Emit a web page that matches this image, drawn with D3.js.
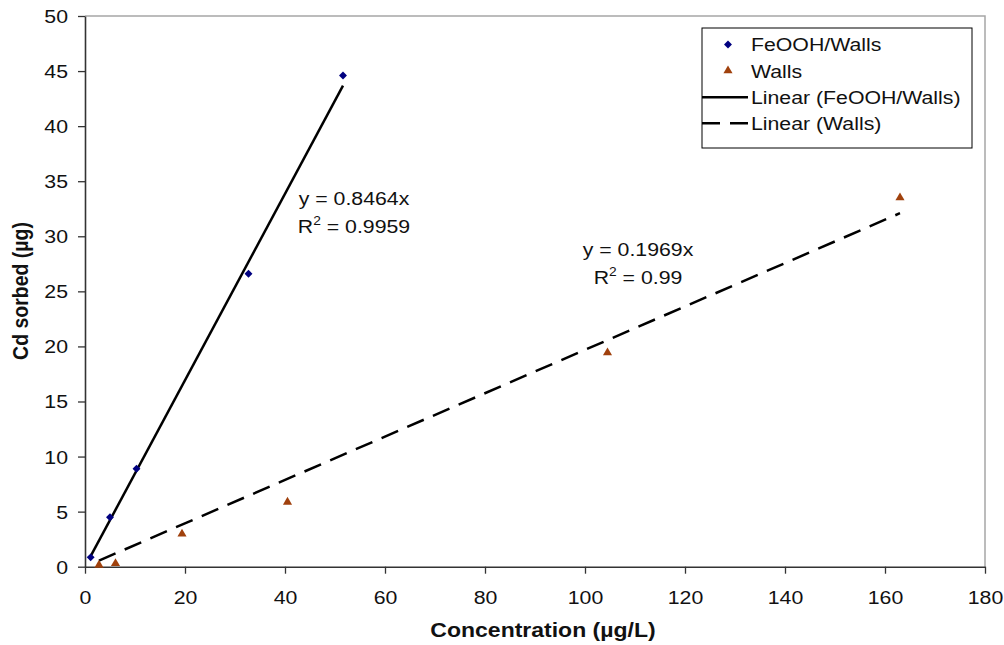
<!DOCTYPE html>
<html>
<head>
<meta charset="utf-8">
<script src="https://cdn.jsdelivr.net/npm/d3@7/dist/d3.min.js"></script>
<style>
  html, body { margin: 0; padding: 0; background: #fff; }
  svg { display: block; font-family: "Liberation Sans", Arial, sans-serif; }
</style>
</head>
<body>
<svg id="chart" width="1004" height="645"></svg>
<script>
// Cd sorption data: concentration (µg/L) vs Cd sorbed (µg)
const feoohConc   = [1.13, 5.0, 10.3, 32.7, 51.6];
const feoohSorbed = [0.85, 4.49, 8.9, 26.6, 44.6];
const wallsConc   = [2.8, 6.1, 19.4, 40.5, 104.5, 163.0];
const wallsSorbed = [0.15, 0.3, 2.97, 5.87, 19.43, 33.5];

// Linear fits through the origin
const feoohSlope = 0.8464, feoohR2 = "0.9959";
const wallsSlope = 0.1969, wallsR2 = "0.99";

const xTicks = [0, 20, 40, 60, 80, 100, 120, 140, 160, 180];
const yTicks = [0, 5, 10, 15, 20, 25, 30, 35, 40, 45, 50];

const seriesNames = ["FeOOH/Walls", "Walls", "Linear (FeOOH/Walls)", "Linear (Walls)"];

const FEOOH_COLOR = "#000080";
const WALLS_COLOR = "#a0410d";
const STRETCH = 1.15;          // horizontal text stretch
const FONT = 18.5;
const DASH = "18,10";

const svg = d3.select("#chart");
const plotL = 85, plotR = 985, plotT = 16, plotB = 566.7;

const x = d3.scaleLinear().domain([0, 180]).range([plotL, plotR]);
const y = d3.scaleLinear().domain([0, 50]).range([plotB, plotT]);

// plot frame (top/right)
svg.append("path")
  .attr("d", `M${plotL},${plotT}H${plotR}V${plotB}`)
  .attr("fill", "none").attr("stroke", "#a6a6a6").attr("stroke-width", 1.5);

// axes
const xAxis = svg.append("g").attr("transform", `translate(0,${plotB})`)
  .call(d3.axisBottom(x).tickValues(xTicks).tickSize(7).tickSizeOuter(0).tickFormat(d3.format("d")));
const yAxis = svg.append("g").attr("transform", `translate(${plotL},0)`)
  .call(d3.axisLeft(y).tickValues(yTicks).tickSize(7).tickSizeOuter(0).tickFormat(d3.format("d")));

[xAxis, yAxis].forEach(g => {
  g.select(".domain").attr("stroke", "#333").attr("stroke-width", 1.6);
  g.selectAll(".tick line").attr("stroke", "#333").attr("stroke-width", 1.3);
  g.selectAll(".tick text").attr("fill", "#111").attr("font-size", FONT)
    .attr("font-family", "Liberation Sans, Arial, sans-serif");
});
xAxis.selectAll(".tick text").attr("y", 37).attr("dy", 0)
  .attr("transform", `scale(${STRETCH},1)`);
yAxis.selectAll(".tick text").attr("x", -17 / STRETCH).attr("dy", "0.35em")
  .attr("transform", `scale(${STRETCH},1)`);

// axis titles
svg.append("text")
  .attr("transform", `translate(543,637) scale(${STRETCH},1)`)
  .attr("text-anchor", "middle").attr("font-size", 20).attr("font-weight", "bold")
  .attr("fill", "#111").text("Concentration (µg/L)");
svg.append("text")
  .attr("transform", `translate(28,291) rotate(-90) scale(1,${STRETCH})`)
  .attr("text-anchor", "middle").attr("font-size", 19.5).attr("font-weight", "bold")
  .attr("fill", "#111").text("Cd sorbed (µg)");

// trend lines
const line = d3.line().x(d => x(d[0])).y(d => y(d[1]));
const fx = d3.extent(feoohConc), wx = d3.extent(wallsConc);
svg.append("path")
  .attr("d", line(fx.map(v => [v, feoohSlope * v])))
  .attr("stroke", "#000").attr("stroke-width", 2.5).attr("fill", "none");
svg.append("path")
  .attr("d", line(wx.map(v => [v, wallsSlope * v])))
  .attr("stroke", "#000").attr("stroke-width", 2.5).attr("fill", "none")
  .attr("stroke-dasharray", DASH);

// markers
const diamond = d3.symbol().type(d3.symbolDiamond2).size(40);
const triangle = d3.symbol().type(d3.symbolTriangle).size(36);

svg.append("g").selectAll("path")
  .data(feoohConc.map((c, i) => [c, feoohSorbed[i]]))
  .join("path")
  .attr("transform", d => `translate(${x(d[0])},${y(d[1])})`)
  .attr("d", diamond).attr("fill", FEOOH_COLOR);

svg.append("g").selectAll("path")
  .data(wallsConc.map((c, i) => [c, wallsSorbed[i]]))
  .join("path")
  .attr("transform", d => `translate(${x(d[0])},${y(d[1])})`)
  .attr("d", triangle).attr("fill", WALLS_COLOR);

// fit labels
function fitLabel(cx, by, slope, r2) {
  svg.append("text")
    .attr("transform", `translate(${cx},${by}) scale(${STRETCH},1)`)
    .attr("text-anchor", "middle").attr("font-size", FONT).attr("fill", "#111")
    .text(`y = ${slope}x`);
  const t = svg.append("text")
    .attr("transform", `translate(${cx},${by + 28}) scale(${STRETCH},1)`)
    .attr("text-anchor", "middle").attr("font-size", FONT).attr("fill", "#111");
  t.append("tspan").text("R");
  t.append("tspan").attr("font-size", 12).attr("dy", -8).text("2");
  t.append("tspan").attr("dy", 8).text(` = ${r2}`);
}
fitLabel(354, 205, feoohSlope, feoohR2);
fitLabel(638, 256, wallsSlope, wallsR2);

// legend
const lg = svg.append("g");
lg.append("rect").attr("x", 702).attr("y", 28).attr("width", 270).attr("height", 120)
  .attr("fill", "#fff").attr("stroke", "#000").attr("stroke-width", 1);
const rowY = [44.5, 70.7, 97.3, 123.3];
lg.append("path").attr("transform", `translate(728,${rowY[0]})`).attr("d", diamond).attr("fill", FEOOH_COLOR);
lg.append("path").attr("transform", `translate(728,${rowY[1]})`).attr("d", triangle).attr("fill", WALLS_COLOR);
lg.append("line").attr("x1", 702).attr("x2", 748).attr("y1", rowY[2]).attr("y2", rowY[2])
  .attr("stroke", "#000").attr("stroke-width", 2.5);
lg.append("line").attr("x1", 702).attr("x2", 748).attr("y1", rowY[3]).attr("y2", rowY[3])
  .attr("stroke", "#000").attr("stroke-width", 2.5).attr("stroke-dasharray", DASH);
seriesNames.forEach((name, i) => {
  lg.append("text")
    .attr("transform", `translate(751,${rowY[i] + 6.8}) scale(${STRETCH},1)`)
    .attr("font-size", FONT).attr("fill", "#111").text(name);
});
</script>
</body>
</html>
